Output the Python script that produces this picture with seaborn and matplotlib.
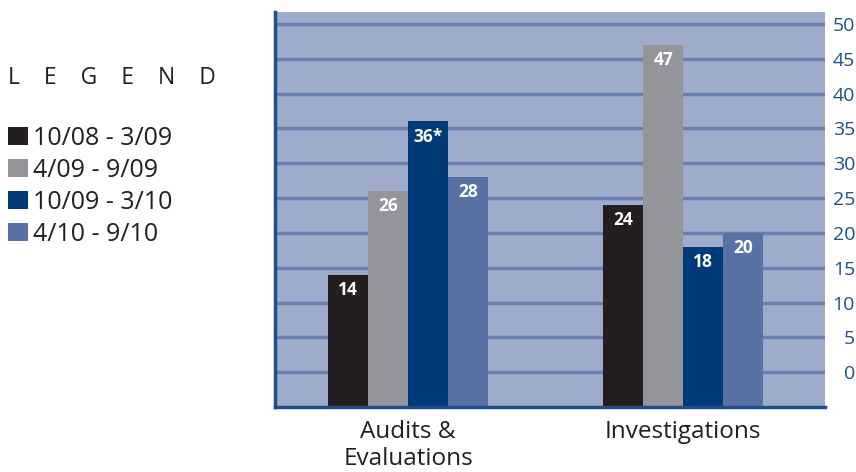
import matplotlib
matplotlib.use("Agg")
import matplotlib.pyplot as plt
import seaborn as sns
import pandas as pd
from matplotlib.patches import Patch

categories = ["Audits &\nEvaluations", "Investigations"]
periods = ["10/08 - 3/09", "4/09 - 9/09", "10/09 - 3/10", "4/10 - 9/10"]
audits_values = [14, 26, 36, 28]
investigations_values = [24, 47, 18, 20]
audits_labels = ["14", "26", "36*", "28"]
investigations_labels = ["24", "47", "18", "20"]
yticks = list(range(0, 51, 5))

colors = ["#231f20", "#939598", "#003a78", "#5872a4"]

rows = []
for cat, vals in zip(categories, [audits_values, investigations_values]):
    for p, v in zip(periods, vals):
        rows.append({"category": cat, "period": p, "value": v})
df = pd.DataFrame(rows)

sns.set_theme(style="white")
plt.rcParams["font.family"] = ["Open Sans", "DejaVu Sans"]

fig = plt.figure(figsize=(8.56, 4.72), dpi=100)
ax = fig.add_axes([0.3213, 0.1377, 0.6425, 0.8369])
ax.set_facecolor("#9eabca")

sns.barplot(data=df, x="category", y="value", hue="period", order=categories,
            hue_order=periods, palette=colors, width=0.58, saturation=1,
            legend=False, ax=ax, zorder=3)

ybottom = -5
ax.set_ylim(ybottom, 51.7)
ax.set_xlim(-0.484, 1.516)

label_map = {}
for cat, labs in zip(categories, [audits_labels, investigations_labels]):
    for p, l in zip(periods, labs):
        label_map[(cat, p)] = l

for i, container in enumerate(ax.containers):
    p = periods[i]
    for j, bar in enumerate(container):
        h = bar.get_height()
        bar.set_y(ybottom)
        bar.set_height(h - ybottom)
        bar.set_linewidth(0)
        txt = label_map[(categories[j], p)]
        ax.annotate(txt, (bar.get_x() + bar.get_width() / 2, h),
                    xytext=(0, -11), textcoords="offset points",
                    ha="center", va="center", color="white",
                    fontsize=12.5, fontweight="bold", zorder=5)

ax.set_yticks(yticks)
ax.yaxis.tick_right()
ax.tick_params(axis="y", length=0, pad=21.6, labelsize=14, labelcolor="#1d4f91")
for lab in ax.get_yticklabels():
    lab.set_ha("right")
ax.tick_params(axis="x", length=0, pad=9, labelsize=17.5, labelcolor="#231f20")
ax.yaxis.grid(True, color="#6b7fb0", linewidth=2.5, zorder=1)
ax.set_axisbelow(True)
ax.set_xlabel("")
ax.set_ylabel("")

for s in ["top", "right"]:
    ax.spines[s].set_visible(False)
for s in ["left", "bottom"]:
    ax.spines[s].set_color("#1f4e8c")
    ax.spines[s].set_linewidth(2.5)
    ax.spines[s].set_zorder(6)

fig.text(8 / 856, 1 - 78 / 472, "L    E    G    E    N    D", fontsize=16.5,
         color="#231f20", ha="left", va="center")

handles = [Patch(facecolor=c, edgecolor="none") for c in colors]
fig.legend(handles, periods, loc="upper left", bbox_to_anchor=(0.009, 1 - 126 / 472),
           frameon=False, fontsize=18, handlelength=0.8, handleheight=0.75,
           handletextpad=0.2, labelspacing=0.28, borderaxespad=0, borderpad=0,
           labelcolor="#231f20")

fig.savefig("out.png", dpi=100)
